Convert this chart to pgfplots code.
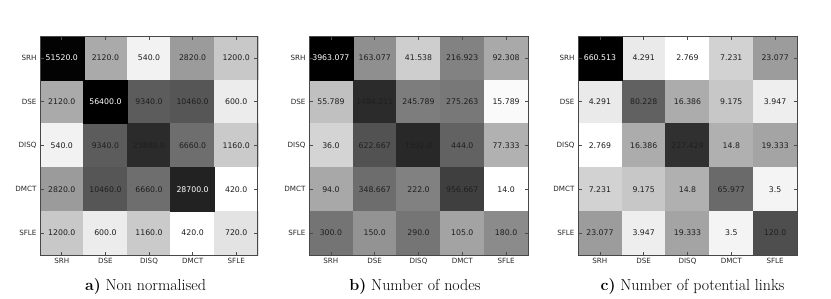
\documentclass[border=0pt]{standalone}
\usepackage{pgfplots}
\pgfplotsset{compat=1.18}
\usepackage{pgfplotstable}
\usepackage{fontspec}
\newfontfamily\dvsans{DejaVu Sans}

% panel a: cells with dark text
\pgfplotstableread{
x y v
1 0 2120.0
2 0 540.0
3 0 2820.0
4 0 1200.0
0 1 2120.0
2 1 9340.0
3 1 10460.0
4 1 600.0
0 2 540.0
1 2 9340.0
2 2 23880.0
3 2 6660.0
4 2 1160.0
0 3 2820.0
1 3 10460.0
2 3 6660.0
4 3 420.0
0 4 1200.0
1 4 600.0
2 4 1160.0
3 4 420.0
4 4 720.0
}\TabA
% panel a: cells with white text
\pgfplotstableread{
x y v
0 0 51520.0
1 1 56400.0
3 3 28700.0
}\TabAw

\pgfplotstableread{
x y v
1 0 163.077
2 0 41.538
3 0 216.923
4 0 92.308
0 1 55.789
1 1 1484.211
2 1 245.789
3 1 275.263
4 1 15.789
0 2 36.0
1 2 622.667
2 2 1592.0
3 2 444.0
4 2 77.333
0 3 94.0
1 3 348.667
2 3 222.0
3 3 956.667
4 3 14.0
0 4 300.0
1 4 150.0
2 4 290.0
3 4 105.0
4 4 180.0
}\TabB
\pgfplotstableread{
x y v
0 0 3963.077
}\TabBw

\pgfplotstableread{
x y v
1 0 4.291
2 0 2.769
3 0 7.231
4 0 23.077
0 1 4.291
1 1 80.228
2 1 16.386
3 1 9.175
4 1 3.947
0 2 2.769
1 2 16.386
2 2 227.429
3 2 14.8
4 2 19.333
0 3 7.231
1 3 9.175
2 3 14.8
3 3 65.977
4 3 3.5
0 4 23.077
1 4 3.947
2 4 19.333
3 4 3.5
4 4 120.0
}\TabC
\pgfplotstableread{
x y v
0 0 660.513
}\TabCw

\pgfplotsset{
  hmbase/.style={
    scale only axis, width=219bp, height=219bp, anchor=south west,
    xmin=-0.5, xmax=4.5, ymin=-0.5, ymax=4.5, y dir=reverse,
    xtick={0,1,2,3,4}, ytick={0,1,2,3,4},
    tick align=inside,
    major tick length=3.5bp,
    every tick/.append style={black!70, line width=0.6bp},
    axis line style={black!72, line width=1bp},
    tick label style={font=\dvsans\fontsize{7.2}{8}\selectfont, text=black!85},
    colormap={gr}{gray(0cm)=(1); gray(1cm)=(0)},
  },
  hm/.style={hmbase,
    xticklabels={SRH,DSE,DISQ,DMCT,SFLE},
    yticklabels={SRH,DSE,DISQ,DMCT,SFLE}},
  hmframe/.style={hmbase, xticklabels={}, yticklabels={}},
  cellsq/.style={scatter, only marks, mark=square*, mark size=21.9bp,
    scatter/use mapped color={draw=mapped color, fill=mapped color},
    point meta=explicit},
  cellval/.style={only marks, mark=none, nodes near coords,
    point meta=explicit symbolic,
    nodes near coords style={anchor=center,
      font=\dvsans\fontsize{7.8}{9}\selectfont, text=#1}},
}

\begin{document}
\begin{tikzpicture}
\path[use as bounding box] (0,0) rectangle (831bp,299bp);

\begin{axis}[hm, at={(40bp,44bp)}, width=218bp]
\addplot[cellsq] table[x=x, y=y, meta expr=ln(\thisrow{v})] {\TabA};
\addplot[cellsq] table[x=x, y=y, meta expr=ln(\thisrow{v})] {\TabAw};
\addplot[cellval=black!88] table[x=x, y=y, meta=v] {\TabA};
\addplot[cellval=white] table[x=x, y=y, meta=v] {\TabAw};
\end{axis}
\begin{axis}[hmframe, at={(40bp,44bp)}, width=218bp]
\addplot[draw=none, mark=none] coordinates {(0,0)};
\end{axis}

\begin{axis}[hm, at={(309bp,44bp)}]
\addplot[cellsq] table[x=x, y=y, meta expr=ln(\thisrow{v})] {\TabB};
\addplot[cellsq] table[x=x, y=y, meta expr=ln(\thisrow{v})] {\TabBw};
\addplot[cellval=black!88] table[x=x, y=y, meta=v] {\TabB};
\addplot[cellval=white] table[x=x, y=y, meta=v] {\TabBw};
\end{axis}
\begin{axis}[hmframe, at={(309bp,44bp)}]
\addplot[draw=none, mark=none] coordinates {(0,0)};
\end{axis}

\begin{axis}[hm, at={(578bp,44bp)}]
\addplot[cellsq] table[x=x, y=y, meta expr=ln(\thisrow{v})] {\TabC};
\addplot[cellsq] table[x=x, y=y, meta expr=ln(\thisrow{v})] {\TabCw};
\addplot[cellval=black!88] table[x=x, y=y, meta=v] {\TabC};
\addplot[cellval=white] table[x=x, y=y, meta=v] {\TabCw};
\end{axis}
\begin{axis}[hmframe, at={(578bp,44bp)}]
\addplot[draw=none, mark=none] coordinates {(0,0)};
\end{axis}

\node[anchor=base, font=\fontsize{16}{18}\selectfont] at (145.5bp,9bp) {\textbf{a)} Non normalised};
\node[anchor=base, font=\fontsize{16}{18}\selectfont] at (415bp,9bp) {\textbf{b)} Number of nodes};
\node[anchor=base, font=\fontsize{16}{18}\selectfont] at (692.5bp,9bp) {\textbf{c)} Number of potential links};
\end{tikzpicture}
\end{document}
